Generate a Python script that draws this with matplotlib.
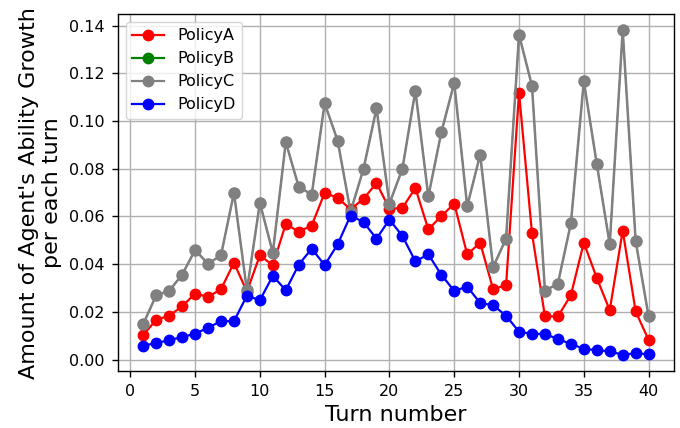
import matplotlib
matplotlib.use("Agg")
import matplotlib.pyplot as plt

turns = list(range(1, 41))
policy_a = [0.0103, 0.0167, 0.0184, 0.0223, 0.0277, 0.0263, 0.0295, 0.0406, 0.0285, 0.0437,
            0.0395, 0.0569, 0.0536, 0.0562, 0.0699, 0.0678, 0.0630, 0.0674, 0.0740, 0.0632,
            0.0636, 0.0719, 0.0546, 0.0601, 0.0654, 0.0441, 0.0490, 0.0295, 0.0312, 0.1119,
            0.0529, 0.0181, 0.0181, 0.0270, 0.0490, 0.0342, 0.0207, 0.0541, 0.0202, 0.0082]
policy_c = [0.0149, 0.0270, 0.0288, 0.0356, 0.0459, 0.0402, 0.0437, 0.0699, 0.0290, 0.0657,
            0.0448, 0.0911, 0.0724, 0.0692, 0.1074, 0.0918, 0.0620, 0.0800, 0.1053, 0.0654,
            0.0800, 0.1127, 0.0684, 0.0952, 0.1160, 0.0643, 0.0859, 0.0388, 0.0507, 0.1362,
            0.1147, 0.0288, 0.0319, 0.0571, 0.1167, 0.0820, 0.0483, 0.1380, 0.0497, 0.0181]
policy_b = list(policy_c)
policy_d = [0.0058, 0.0070, 0.0081, 0.0095, 0.0108, 0.0134, 0.0161, 0.0161, 0.0268, 0.0249,
            0.0351, 0.0291, 0.0398, 0.0465, 0.0396, 0.0483, 0.0604, 0.0576, 0.0507, 0.0587,
            0.0518, 0.0412, 0.0441, 0.0356, 0.0288, 0.0306, 0.0237, 0.0228, 0.0184, 0.0117,
            0.0108, 0.0108, 0.0086, 0.0066, 0.0045, 0.0040, 0.0035, 0.0020, 0.0027, 0.0022]

xticks = [0, 5, 10, 15, 20, 25, 30, 35, 40]
yticks = [0.00, 0.02, 0.04, 0.06, 0.08, 0.10, 0.12, 0.14]

fig = plt.figure(figsize=(6.8, 4.28), dpi=100)
ax = fig.add_axes([0.1735, 0.133, 0.8175, 0.834])

ax.plot(turns, policy_a, '-o', color='red', markersize=7.5, linewidth=1.6, label='PolicyA')
lb, = ax.plot(turns, policy_b, '-o', color='green', markersize=7.5, linewidth=1.6, label='PolicyB')
ax.plot(turns, policy_c, '-o', color='gray', markersize=8, linewidth=1.8, label='PolicyC')
ax.plot(turns, policy_d, '-o', color='blue', markersize=7.5, linewidth=1.6, label='PolicyD')
lb.set_markersize(6.8)
lb.set_linewidth(1.0)

ax.grid(True, color='#b0b0b0', linewidth=1.0)
ax.set_axisbelow(True)
ax.set_xticks(xticks)
ax.set_yticks(yticks)
ax.set_yticklabels(['%.2f' % v for v in yticks])
ax.tick_params(labelsize=11.5, length=4.5, pad=5, width=1.0)
for s in ax.spines.values():
    s.set_linewidth(1.0)
ax.set_xlabel('Turn number', fontsize=16, labelpad=4)
ax.set_ylabel("Amount of Agent's Ability Growth\nper each turn", fontsize=16, labelpad=5)
leg = ax.legend(loc='upper left', fontsize=11.5)
for h in leg.legend_handles:
    h.set_markersize(7.5)
    h.set_linewidth(1.6)

fig.savefig('out.png', dpi=100)
